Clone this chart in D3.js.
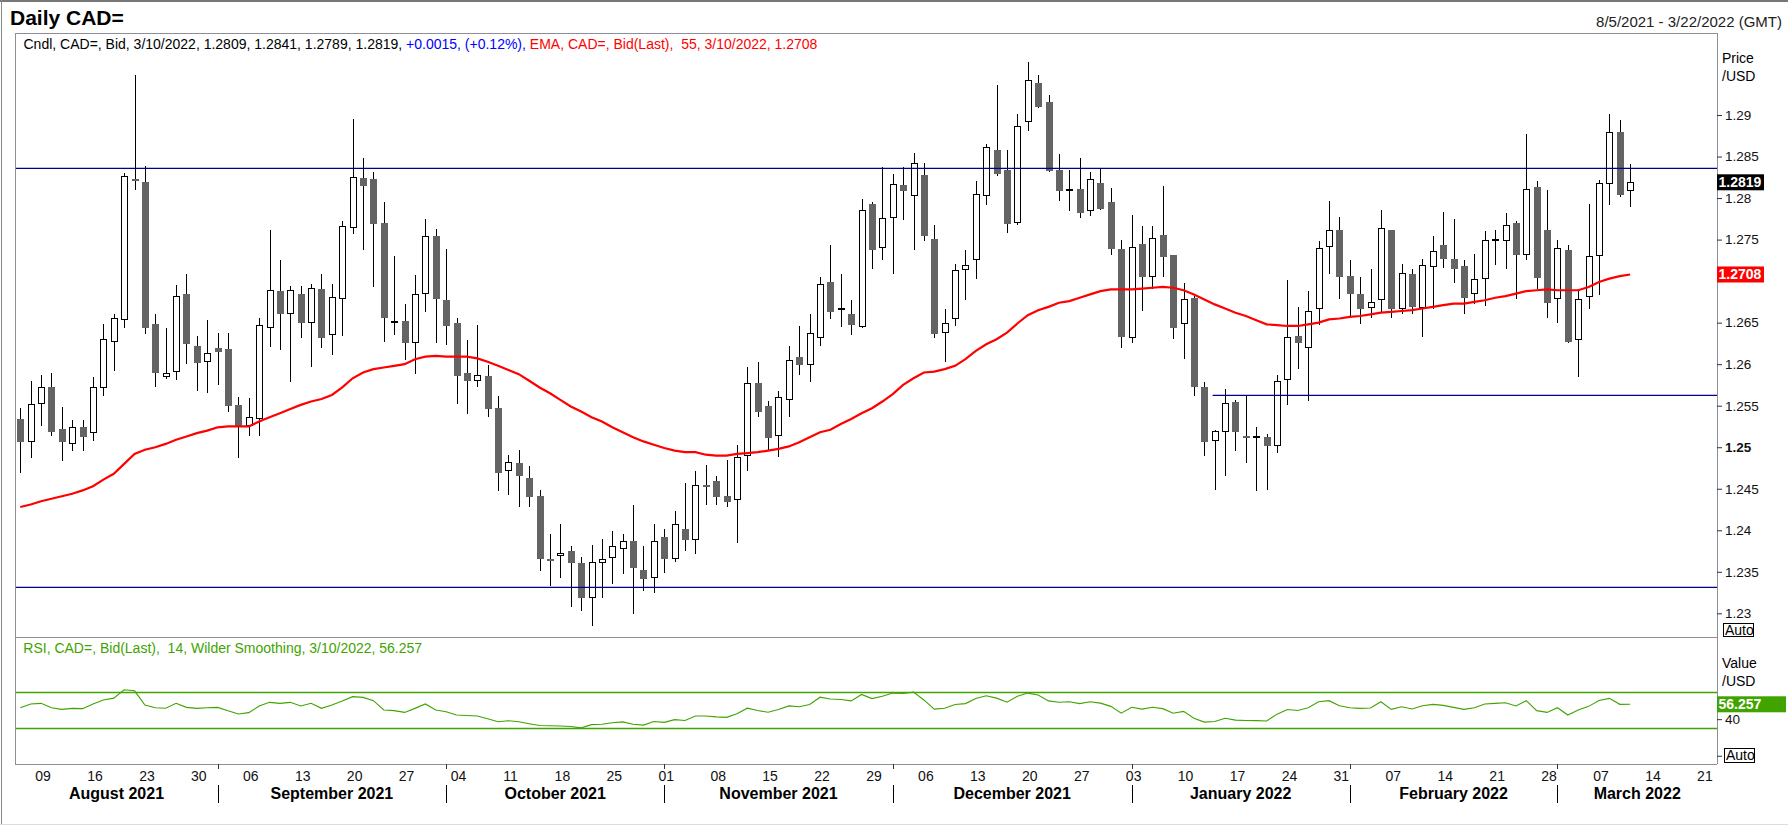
<!DOCTYPE html>
<html><head><meta charset="utf-8">
<script src="https://cdn.jsdelivr.net/npm/d3@7"></script>
<style>
html,body{margin:0;padding:0;background:#fff;}
svg{display:block;font-family:"Liberation Sans",Arial,sans-serif;}
</style></head><body>
<svg id="chart" width="1788" height="827"></svg>
<script>
// ---- data (trading-day index 0 = 5 Aug 2021 ... 155 = 10 Mar 2022) ----
const openP = [1.2534,1.2506,1.2552,1.2572,1.2522,1.2504,1.2524,1.2517,1.2571,1.2627,
1.2653,1.2823,1.2819,1.2648,1.2584,1.2590,1.2685,1.2622,1.2603,1.2620,
1.2618,1.2551,1.2525,1.2534,1.2643,1.2688,1.2661,1.2685,1.2649,1.2691,
1.2635,1.2678,1.2764,1.2824,1.2823,1.2770,1.2649,1.2652,1.2626,1.2685,
1.2754,1.2677,1.2650,1.2589,1.2580,1.2586,1.2547,1.2471,1.2481,1.2463,
1.2441,1.2366,1.2369,1.2375,1.2360,1.2319,1.2360,1.2367,1.2377,1.2387,
1.2352,1.2343,1.2392,1.2366,1.2402,1.2388,1.2455,1.2459,1.2441,1.2436,
1.2489,1.2577,1.2550,1.2513,1.2557,1.2609,1.2599,1.2632,1.2699,1.2666,
1.2661,1.2645,1.2793,1.2740,1.2776,1.2816,1.2802,1.2828,1.2751,1.2637,
1.2654,1.2713,1.2725,1.2803,1.2858,1.2834,1.2770,1.2892,1.2939,1.2916,
1.2834,1.2808,1.2811,1.2785,1.2818,1.2795,1.2739,1.2632,1.2745,1.2705,
1.2756,1.2731,1.2648,1.2680,1.2573,1.2508,1.2518,1.2554,1.2514,1.2512,
1.2512,1.2502,1.2581,1.2634,1.2620,1.2667,1.2741,1.2762,1.2706,1.2685,
1.2668,1.2677,1.2762,1.2666,1.2709,1.2668,1.2717,1.2744,1.2727,1.2718,
1.2685,1.2702,1.2750,1.2748,1.2770,1.2731,1.2813,1.2762,1.2678,1.2738,
1.2629,1.2681,1.2730,1.2817,1.2880,1.2809];
const highP = [1.2547,1.2580,1.2587,1.2589,1.2548,1.2533,1.2533,1.2584,1.2648,1.2661,
1.2830,1.2948,1.2839,1.2660,1.2643,1.2695,1.2708,1.2634,1.2653,1.2637,
1.2637,1.2560,1.2559,1.2655,1.2761,1.2726,1.2694,1.2694,1.2697,1.2708,
1.2697,1.2772,1.2895,1.2848,1.2831,1.2795,1.2730,1.2672,1.2707,1.2775,
1.2763,1.2739,1.2655,1.2629,1.2647,1.2599,1.2562,1.2491,1.2497,1.2477,
1.2449,1.2396,1.2408,1.2381,1.2368,1.2382,1.2390,1.2399,1.2396,1.2430,
1.2381,1.2408,1.2402,1.2423,1.2457,1.2471,1.2479,1.2465,1.2485,1.2503,
1.2596,1.2603,1.2556,1.2568,1.2622,1.2646,1.2661,1.2705,1.2744,1.2709,
1.2677,1.2799,1.2795,1.2837,1.2829,1.2837,1.2854,1.2842,1.2768,1.2666,
1.2721,1.2738,1.2821,1.2865,1.2936,1.2858,1.2901,1.2964,1.2948,1.2924,
1.2853,1.2834,1.2848,1.2831,1.2836,1.2812,1.2750,1.2780,1.2766,1.2766,
1.2814,1.2731,1.2698,1.2682,1.2579,1.2521,1.2570,1.2557,1.2563,1.2524,
1.2516,1.2587,1.2701,1.2669,1.2688,1.2748,1.2796,1.2777,1.2726,1.2705,
1.2715,1.2786,1.2762,1.2721,1.2715,1.2727,1.2754,1.2783,1.2775,1.2726,
1.2733,1.2760,1.2762,1.2782,1.2772,1.2877,1.2821,1.2810,1.2750,1.2744,
1.2691,1.2793,1.2822,1.2901,1.2894,1.2841];
const lowP = [1.2469,1.2487,1.2526,1.2513,1.2483,1.2495,1.2496,1.2507,1.2562,1.2592,
1.2643,1.2810,1.2636,1.2573,1.2582,1.2581,1.2600,1.2568,1.2565,1.2575,
1.2543,1.2487,1.2514,1.2514,1.2621,1.2617,1.2578,1.2632,1.2596,1.2619,
1.2611,1.2634,1.2757,1.2738,1.2693,1.2627,1.2635,1.2605,1.2588,1.2663,
1.2625,1.2623,1.2552,1.2540,1.2572,1.2536,1.2447,1.2443,1.2428,1.2428,
1.2351,1.2333,1.2343,1.2308,1.2303,1.2285,1.2318,1.2335,1.2347,1.2299,
1.2327,1.2325,1.2348,1.2362,1.2375,1.2372,1.2430,1.2430,1.2428,1.2385,
1.2471,1.2536,1.2495,1.2488,1.2536,1.2587,1.2579,1.2622,1.2654,1.2645,
1.2635,1.2643,1.2715,1.2725,1.2709,1.2774,1.2738,1.2748,1.2632,1.2603,
1.2646,1.2677,1.2703,1.2792,1.2826,1.2758,1.2768,1.2881,1.2908,1.2831,
1.2796,1.2784,1.2776,1.2779,1.2786,1.2732,1.2619,1.2625,1.2664,1.2690,
1.2705,1.2630,1.2606,1.2562,1.2490,1.2448,1.2465,1.2496,1.2481,1.2447,
1.2449,1.2493,1.2551,1.2594,1.2556,1.2647,1.2709,1.2679,1.2658,1.2648,
1.2655,1.2663,1.2655,1.2661,1.2661,1.2633,1.2666,1.2716,1.2698,1.2661,
1.2673,1.2670,1.2719,1.2715,1.2679,1.2726,1.2691,1.2656,1.2650,1.2625,
1.2584,1.2667,1.2683,1.2792,1.2801,1.2789];
const closeP = [1.2506,1.2552,1.2573,1.2518,1.2506,1.2524,1.2512,1.2572,1.2630,1.2655,
1.2826,1.2821,1.2644,1.2589,1.2589,1.2682,1.2624,1.2601,1.2613,1.2615,
1.2550,1.2525,1.2536,1.2647,1.2689,1.2660,1.2689,1.2650,1.2692,1.2632,
1.2681,1.2766,1.2825,1.2815,1.2769,1.2655,1.2652,1.2626,1.2685,1.2754,
1.2678,1.2646,1.2586,1.2580,1.2587,1.2546,1.2469,1.2482,1.2465,1.2440,
1.2365,1.2365,1.2373,1.2361,1.2318,1.2362,1.2366,1.2381,1.2387,1.2355,
1.2341,1.2387,1.2366,1.2408,1.2388,1.2454,1.2453,1.2440,1.2434,1.2488,
1.2577,1.2542,1.2511,1.2560,1.2605,1.2599,1.2637,1.2697,1.2663,1.2666,
1.2647,1.2786,1.2738,1.2776,1.2817,1.2808,1.2842,1.2754,1.2636,1.2650,
1.2713,1.2720,1.2805,1.2861,1.2829,1.2769,1.2887,1.2942,1.2910,1.2833,
1.2809,1.2811,1.2782,1.2823,1.2787,1.2739,1.2633,1.2741,1.2705,1.2752,
1.2729,1.2643,1.2678,1.2573,1.2506,1.2519,1.2553,1.2518,1.2512,1.2512,
1.2501,1.2580,1.2633,1.2626,1.2664,1.2740,1.2761,1.2705,1.2685,1.2667,
1.2675,1.2764,1.2667,1.2710,1.2669,1.2719,1.2736,1.2727,1.2715,1.2680,
1.2702,1.2749,1.2750,1.2768,1.2731,1.2811,1.2704,1.2674,1.2740,1.2627,
1.2679,1.2730,1.2818,1.2880,1.2804,1.2819];
const ema55 = [1.2428,1.2431,1.2435,1.2438,1.2441,1.2444,1.2448,1.2453,1.2461,1.2468,
1.2480,1.2492,1.2497,1.2500,1.2504,1.2509,1.2513,1.2517,1.2520,1.2524,
1.2525,1.2525,1.2525,1.2531,1.2536,1.2541,1.2546,1.2551,1.2555,1.2558,
1.2563,1.2572,1.2583,1.2590,1.2594,1.2596,1.2598,1.2600,1.2606,1.2609,
1.2610,1.2609,1.2609,1.2609,1.2607,1.2603,1.2598,1.2593,1.2588,1.2580,
1.2572,1.2565,1.2557,1.2549,1.2543,1.2536,1.2531,1.2524,1.2518,1.2512,
1.2507,1.2503,1.2499,1.2496,1.2494,1.2494,1.2491,1.2490,1.2490,1.2492,
1.2493,1.2494,1.2496,1.2498,1.2501,1.2506,1.2512,1.2518,1.2521,1.2528,
1.2534,1.2541,1.2547,1.2555,1.2564,1.2575,1.2583,1.2590,1.2591,1.2594,
1.2598,1.2606,1.2616,1.2624,1.2630,1.2638,1.2649,1.2659,1.2665,1.2669,
1.2674,1.2676,1.2680,1.2684,1.2688,1.2690,1.2690,1.2690,1.2691,1.2692,
1.2693,1.2692,1.2689,1.2684,1.2678,1.2672,1.2667,1.2662,1.2658,1.2653,
1.2648,1.2647,1.2646,1.2646,1.2648,1.2650,1.2654,1.2655,1.2657,1.2658,
1.2660,1.2662,1.2663,1.2664,1.2665,1.2667,1.2669,1.2671,1.2673,1.2673,
1.2675,1.2677,1.2680,1.2682,1.2685,1.2688,1.2689,1.2690,1.2689,1.2689,
1.2689,1.2693,1.2699,1.2703,1.2706,1.2708];
const rsi14 = [52.5,56.5,57.3,52.5,50.7,51.8,51.5,56.6,60.9,63.0,
72.2,71.0,55.5,52.5,52.0,57.3,52.9,51.8,52.5,52.9,
49.3,45.6,47.1,54.4,58.4,57.3,58.4,54.4,57.3,51.8,
55.5,59.8,64.6,63.8,60.2,50.0,49.3,47.4,51.8,56.6,
50.0,48.2,44.5,44.0,43.5,40.5,37.2,38.3,37.2,35.0,
33.0,32.8,32.5,32.0,30.5,34.0,34.5,36.0,37.0,34.5,
33.5,37.5,36.5,39.5,38.5,43.5,43.5,42.5,42.0,46.0,
52.0,49.5,47.5,50.5,54.5,53.5,56.0,64.0,62.0,61.5,
60.0,67.0,62.5,65.0,68.5,68.0,69.5,61.0,51.0,52.0,
56.0,57.0,62.5,65.5,63.0,58.5,65.0,68.5,66.5,60.0,
58.5,59.0,57.0,59.0,57.5,54.0,46.5,53.0,51.0,53.0,
51.5,46.5,48.5,41.0,36.8,37.5,41.0,39.0,38.5,38.4,
38.0,45.5,50.5,49.5,52.5,59.0,60.2,54.7,52.5,51.8,
52.2,59.1,50.7,53.6,51.1,54.7,56.2,55.1,52.9,50.7,
52.5,56.6,57.3,58.0,54.4,60.2,49.3,47.4,52.5,44.5,
50.0,54.0,60.5,62.7,56.2,56.257];
const dayTickIdx = [2,7,12,17,22,27,32,37,42,47,52,57,62,67,72,77,82,87,92,97,102,107,112,117,122,127,132,137,142,147,152,157,162];
const dayTickLabels = ["09","16","23","30","06","13","20","27","04","11","18","25","01","08","15","22","29","06","13","20","27","03","10","17","24","31","07","14","21","28","07","14","21"];
const monthNames = ["August 2021","September 2021","October 2021","November 2021","December 2021","January 2022","February 2022","March 2022"];
const monthStartIdx = [0,19,41,62,84,107,128,148];
const priceTicks = [1.23,1.235,1.24,1.245,1.25,1.255,1.26,1.265,1.27,1.275,1.28,1.285,1.29];
const hLines = [1.28358, 1.23313];
const supportLine = [1.25625];
const supportFrom = [114.8];
const lastIdx = 163.36;

// ---- layout ----
const L = 15.3, R = 1717, T = 33.3, SEP = 637, B = 764;
const svg = d3.select("#chart");
const font = '"Liberation Sans",Arial,sans-serif';
const GREEN = "#41a300", FRAME = "#8e8e98";

const x = d3.scaleLinear().domain([-0.48, lastIdx]).range([L, R]);
const y = d3.scaleLinear().domain([1.22715, 1.29984]).range([SEP, T]);
const yr = d3.scaleLinear().domain([-9.0, 129.8]).range([B, SEP]);

// outer frame
svg.append("line").attr("x1",0).attr("x2",1788).attr("y1",1).attr("y2",1).attr("stroke","#777").attr("stroke-width",2);
svg.append("line").attr("x1",1.5).attr("x2",1.5).attr("y1",0).attr("y2",825).attr("stroke","#8a8a8a");
svg.append("line").attr("x1",0).attr("x2",1788).attr("y1",824.5).attr("y2",824.5).attr("stroke","#dcdcdc");

// header
svg.append("text").attr("x",10).attr("y",25).attr("font-size",21).attr("font-weight","bold").text("Daily CAD=");
svg.append("text").attr("x",1782).attr("y",26.5).attr("font-size",15).attr("text-anchor","end").attr("fill","#222").text("8/5/2021 - 3/22/2022 (GMT)");

const plot = svg.append("g");
// candles
const cw = plot.append("g").attr("shape-rendering","crispEdges");
openP.forEach((o,i)=>{
  const c = closeP[i], h = highP[i], l = lowP[i];
  const xc = Math.round(x(i));
  cw.append("line").attr("x1",xc+0.5).attr("x2",xc+0.5)
    .attr("y1",Math.round(y(h))).attr("y2",Math.round(y(l))).attr("stroke","#000").attr("stroke-width",1);
  const top = Math.round(y(Math.max(o,c))), bot = Math.round(y(Math.min(o,c)));
  if (o === c) {
    cw.append("rect").attr("x",xc-3).attr("y",top-1).attr("width",7).attr("height",2).attr("fill","#000");
  } else if (c > o) {
    cw.append("rect").attr("x",xc-2.5).attr("y",top+0.5).attr("width",6).attr("height",Math.max(1,bot-top-1))
      .attr("fill","#fff").attr("stroke","#000").attr("stroke-width",1);
  } else {
    cw.append("rect").attr("x",xc-3).attr("y",top).attr("width",7).attr("height",Math.max(2,bot-top)).attr("fill","#646464");
  }
});

// horizontal reference lines
hLines.forEach(v=>{
  plot.append("line").attr("x1",L).attr("x2",R).attr("y1",y(v)).attr("y2",y(v)).attr("stroke","#00008b").attr("stroke-width",1.3);
});
supportLine.forEach((v,k)=>{
  plot.append("line").attr("x1",x(supportFrom[k])).attr("x2",R).attr("y1",y(v)).attr("y2",y(v)).attr("stroke","#00008b").attr("stroke-width",1.3);
});

// EMA
plot.append("path").datum(ema55)
  .attr("d", d3.line().x((d,i)=>x(i)).y(d=>y(d)))
  .attr("fill","none").attr("stroke","#ff0000").attr("stroke-width",2.2);

// RSI panel
[70,30].forEach(v=>{
  svg.append("line").attr("x1",L).attr("x2",R).attr("y1",Math.round(yr(v))+0.5).attr("y2",Math.round(yr(v))+0.5).attr("stroke",GREEN).attr("stroke-width",1.3);
});
svg.append("path").datum(rsi14)
  .attr("d", d3.line().x((d,i)=>x(i)).y(d=>yr(d)))
  .attr("fill","none").attr("stroke",GREEN).attr("stroke-width",1.1);

// frames
const fr = svg.append("g").attr("shape-rendering","crispEdges").attr("stroke",FRAME).attr("fill","none");
fr.append("line").attr("x1",L).attr("x2",R).attr("y1",T).attr("y2",T);
fr.append("line").attr("x1",L).attr("x2",R).attr("y1",SEP).attr("y2",SEP);
fr.append("line").attr("x1",L).attr("x2",R).attr("y1",B).attr("y2",B);
fr.append("line").attr("x1",L).attr("x2",L).attr("y1",T).attr("y2",B);
fr.append("line").attr("x1",R).attr("x2",R).attr("y1",T).attr("y2",B);

// legends
const lg = svg.append("text").attr("x",23.5).attr("y",48.5).attr("font-size",14);
lg.append("tspan").attr("fill","#000").text("Cndl, CAD=, Bid, 3/10/2022, 1.2809, 1.2841, 1.2789, 1.2819, ");
lg.append("tspan").attr("fill","#0000ff").text("+0.0015, (+0.12%), ");
lg.append("tspan").attr("fill","#ff0000").text("EMA, CAD=, Bid(Last),\u00a0\u00a055, 3/10/2022, 1.2708");
svg.append("text").attr("x",23.3).attr("y",652.5).attr("font-size",14).attr("fill",GREEN)
  .text("RSI, CAD=, Bid(Last),\u00a0\u00a014, Wilder Smoothing, 3/10/2022, 56.257");

// value boxes positions (labels covered by them are hidden, as in the reference)
const boxYs = [y(closeP[closeP.length-1]), y(ema55[ema55.length-1])];

// price axis
const pa = svg.append("g").attr("transform",`translate(${R},0)`)
  .call(d3.axisRight(y).tickValues(priceTicks).tickSize(5).tickPadding(3).tickFormat(d=>String(+d.toFixed(3))));
pa.select(".domain").remove();
pa.selectAll("text").attr("font-size",13.5).attr("font-family",font).attr("fill","#111")
  .attr("font-weight",d=>Math.abs(d-1.25)<1e-9?"bold":"normal")
  .style("display",d=>boxYs.some(b=>Math.abs(y(d)-b)<12)?"none":null);
pa.selectAll("line").attr("stroke","#333");
svg.append("text").attr("x",1722).attr("y",63).attr("font-size",14).text("Price");
svg.append("text").attr("x",1722).attr("y",81).attr("font-size",14).text("/USD");
// price Auto
svg.append("rect").attr("x",1723.5).attr("y",623.5).attr("width",30).attr("height",13).attr("fill","#fff").attr("stroke","#000");
svg.append("text").attr("x",1725).attr("y",634.5).attr("font-size",14).text("Auto");

// RSI axis
const ra = svg.append("g").attr("transform",`translate(${R},0)`)
  .call(d3.axisRight(yr).tickValues([0,40]).tickSize(5).tickPadding(3).tickFormat(d=>d===40?"40":""));
ra.select(".domain").remove();
ra.selectAll("text").attr("font-size",13.5).attr("font-family",font).attr("fill","#111");
ra.selectAll("line").attr("stroke","#333");
svg.append("text").attr("x",1722).attr("y",668).attr("font-size",14).text("Value");
svg.append("text").attr("x",1722).attr("y",686).attr("font-size",14).text("/USD");
svg.append("rect").attr("x",1724.5).attr("y",748.5).attr("width",30).attr("height",14).attr("fill","#fff").attr("stroke","#000");
svg.append("text").attr("x",1726).attr("y",760).attr("font-size",14).text("Auto");

// value boxes
function valBox(v, yy, bg, w){
  svg.append("rect").attr("x",R).attr("y",yy-8).attr("width",w).attr("height",16).attr("fill",bg);
  svg.append("text").attr("x",R+1.5).attr("y",yy+5).attr("font-size",14).attr("font-weight","bold").attr("fill","#fff").text(v);
}
valBox("1.2819", boxYs[0], "#000", 47);
valBox("1.2708", boxYs[1], "#ff0000", 47);
valBox("56.257", yr(rsi14[rsi14.length-1]), GREEN, 69);

// x axis
const xa = svg.append("g").attr("transform",`translate(1.5,${B})`)
  .call(d3.axisBottom(x).tickValues(dayTickIdx).tickSize(0).tickPadding(7).tickFormat((d,k)=>dayTickLabels[k]));
xa.select(".domain").remove();
xa.selectAll("text").attr("font-size",14).attr("font-family",font).attr("fill","#111");

// month separators and labels
monthStartIdx.forEach((s,k)=>{
  const xs = Math.round(x(s))+0.5;
  if (k>0) {
    svg.append("line").attr("x1",xs).attr("x2",xs).attr("y1",785).attr("y2",803).attr("stroke","#000");
    svg.append("line").attr("x1",xs).attr("x2",xs).attr("y1",B).attr("y2",B+5).attr("stroke","#333");
  }
  const a = k===0 ? L : x(s);
  const b = k<monthStartIdx.length-1 ? x(monthStartIdx[k+1]) : R;
  svg.append("text").attr("x",(a+b)/2).attr("y",799).attr("font-size",16).attr("font-weight","bold")
    .attr("text-anchor","middle").text(monthNames[k]);
});
</script>
</body></html>
